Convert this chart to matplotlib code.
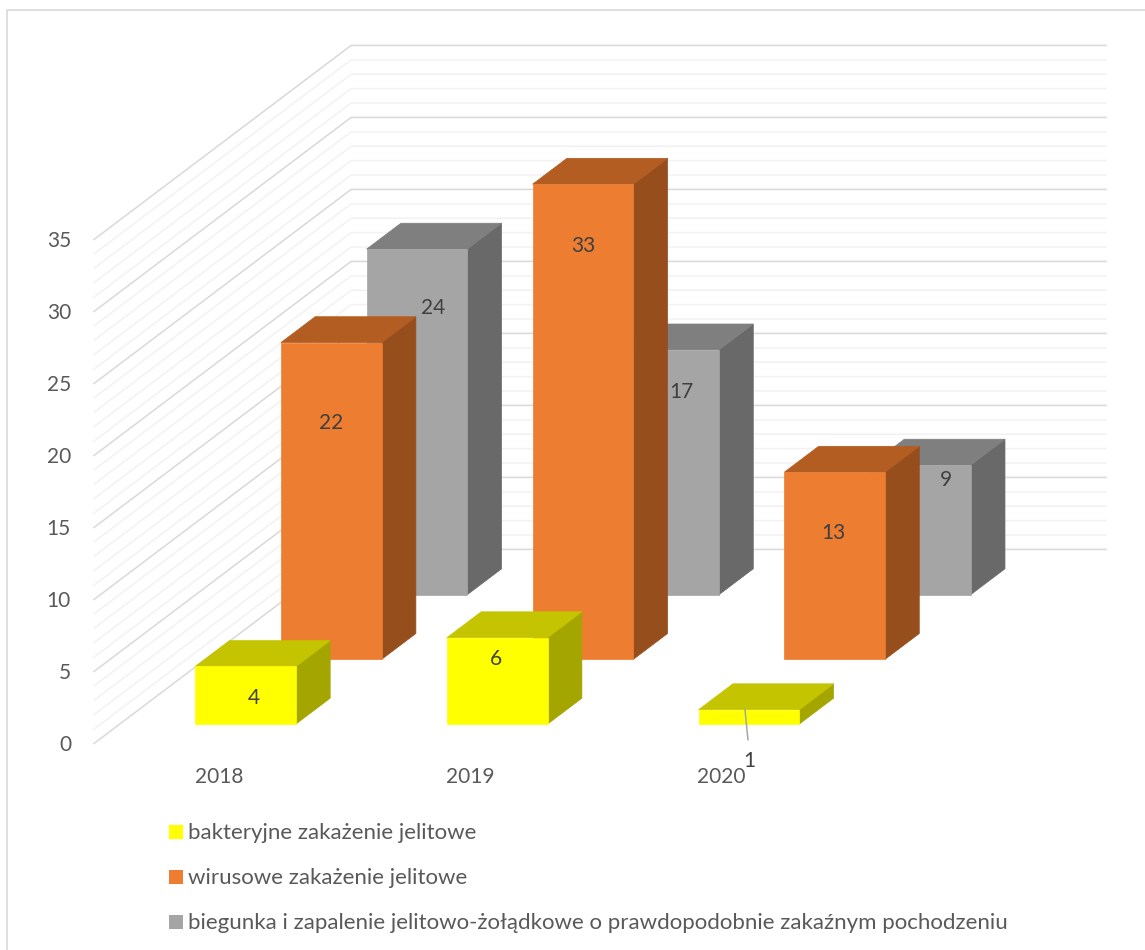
import matplotlib
matplotlib.use("Agg")
import matplotlib.pyplot as plt
from matplotlib.patches import Polygon, Rectangle

# ===== Data =====
years = ["2018", "2019", "2020"]
series_names = ["bakteryjne zakażenie jelitowe",
                "wirusowe zakażenie jelitowe",
                "biegunka i zapalenie jelitowo-żołądkowe o prawdopodobnie zakaźnym pochodzeniu"]
bakteryjne = [4, 6, 1]
wirusowe = [22, 33, 13]
biegunka = [24, 17, 9]
y_ticks = [0, 5, 10, 15, 20, 25, 30, 35]

# ===== Styling =====
font_name = "Lato"
text_color = "#595959"
label_color = "#404040"
front_colors = ["#FFFF00", "#ED7D31", "#A5A5A5"]
top_colors = ["#C4C400", "#B35D22", "#7F7F7F"]
side_colors = ["#A5A500", "#974E1D", "#696969"]

# ===== Oblique projection (pixels) =====
x0, y0 = 94, 743.5     # front corner of the floor, value 0
cat_w = 251.7          # width of one category
depth_dx, depth_dy = 85.7, -64.7  # one series step in depth
unit = 14.4            # pixels per value unit
gap = 0.3              # empty share each side of a bar


def proj(cat, depth, value):
    return (x0 + cat * cat_w + depth * depth_dx,
            y0 + depth * depth_dy - value * unit)


fig = plt.figure(figsize=(11.45, 9.5), dpi=100)
ax = fig.add_axes([0, 0, 1, 1])
ax.set_xlim(0, 1145)
ax.set_ylim(950, 0)
ax.axis("off")

# chart frame, open at the bottom and cut at the right
ax.plot([7, 7, 1145], [950, 10, 10], color="#D9D9D9", lw=1.2, solid_joinstyle="miter")

# ===== Walls and grid =====
for minor in (True, False):
    for v in range(0, 36):
        if (v % 5 != 0) != minor:
            continue
        pts = [proj(0, 0, v), proj(0, 3, v), proj(3, 3, v)]
        ax.plot([p[0] for p in pts], [p[1] for p in pts],
                color="#F2F2F2" if minor else "#D9D9D9", lw=1.1, zorder=1)

# ===== Bars, back row first =====
rows = [bakteryjne, wirusowe, biegunka]
z = 2
for s in (2, 1, 0):
    for c in (2, 1, 0):
        v = rows[s][c]
        x1, x2 = c + gap, c + 1 - gap
        d1, d2 = s + gap, s + 1 - gap
        front = [proj(x1, d1, 0), proj(x2, d1, 0), proj(x2, d1, v), proj(x1, d1, v)]
        side = [proj(x2, d1, 0), proj(x2, d2, 0), proj(x2, d2, v), proj(x2, d1, v)]
        top = [proj(x1, d1, v), proj(x2, d1, v), proj(x2, d2, v), proj(x1, d2, v)]
        ax.add_patch(Polygon(side, fc=side_colors[s], ec=side_colors[s], lw=0.5, zorder=z))
        ax.add_patch(Polygon(top, fc=top_colors[s], ec=top_colors[s], lw=0.5, zorder=z))
        ax.add_patch(Polygon(front, fc=front_colors[s], ec=front_colors[s], lw=0.5, zorder=z + 0.5))
    z += 1

# ===== Data labels: shift from the middle/top of the front face =====
label_dx = [[8, -1, 0], [0, 0, -1], [16, 13, 26]]
label_dy = [[32, 21, 51], [80, 62, 61], [59, 42, 15]]
for s in range(3):
    for c in range(3):
        v = rows[s][c]
        fx, fy = proj(c + 0.5, s + gap, v)
        ax.text(fx + label_dx[s][c], fy + label_dy[s][c], str(v), color=label_color,
                fontsize=15, fontname=font_name, ha="center", va="center", zorder=10)

# leader line of the small 2020 bar
lx, ly = proj(2 + 0.5, gap, bakteryjne[2])
ax.plot([lx - 4, lx - 1], [ly, ly + 30], color="#A6A6A6", lw=1.1, zorder=9)

# ===== Axis labels =====
for v in y_ticks:
    ax.text(71, 743 - v * unit + 2, str(v), color=text_color, fontsize=15,
            fontname=font_name, ha="right", va="center")
for c, year in enumerate(years):
    ax.text(219 + c * 251, 777, year, color=text_color, fontsize=15,
            fontname=font_name, ha="center", va="center")

# ===== Legend =====
for s, name in enumerate(series_names):
    yy = 832 + s * 45
    ax.add_patch(Rectangle((169, yy - 7), 14, 14, fc=front_colors[s], ec="none"))
    ax.text(188, yy + 1, name, color=text_color, fontsize=16, fontname=font_name,
            ha="left", va="center")

fig.savefig("out.png", dpi=100)
